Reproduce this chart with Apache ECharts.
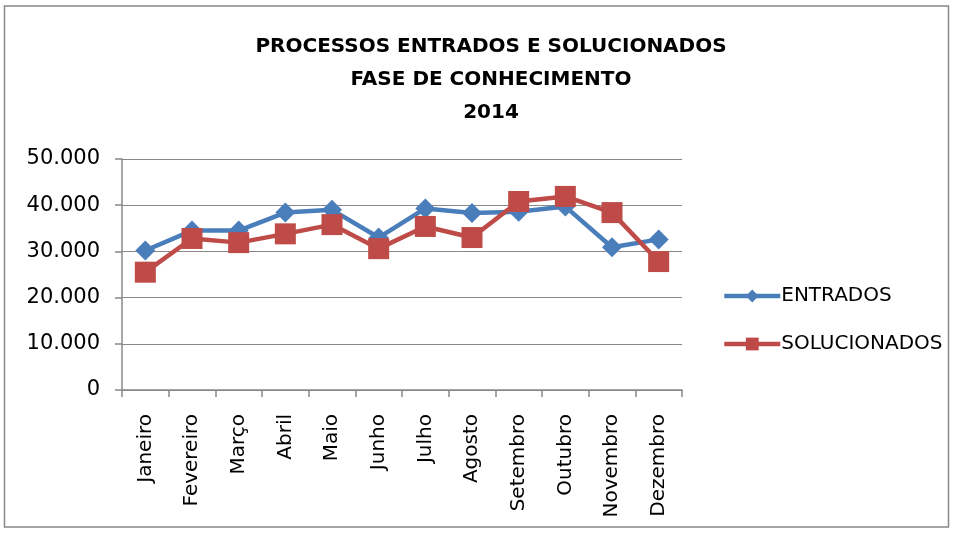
<!DOCTYPE html>
<html><head><meta charset="utf-8">
<script src="https://cdn.jsdelivr.net/npm/echarts@6/dist/echarts.min.js"></script>
<style>html,body{margin:0;padding:0;background:#fff}#c{width:954px;height:533px}</style>
</head><body><div id="c"></div>
<script>
var categories = ['Janeiro','Fevereiro','Março','Abril','Maio','Junho','Julho','Agosto','Setembro','Outubro','Novembro','Dezembro'];
var entrados = [30200, 34500, 34500, 38400, 39000, 33000, 39300, 38300, 38600, 39700, 30900, 32600];
var solucionados = [25500, 32800, 31900, 33800, 35800, 30600, 35400, 33000, 40800, 41900, 38400, 27800];
var yTicks = [0, 10000, 20000, 30000, 40000, 50000];

var chart = echarts.init(document.getElementById('c'));
function fmt(v){ return v === 0 ? '0' : String(v).replace(/(\d)(?=(\d{3})+$)/g, '$1.'); }
chart.setOption({
  animation: false,
  backgroundColor: '#fff',
  graphic: [{type:'rect', shape:{x:4.5, y:6, width:944, height:521}, style:{fill:'none', stroke:'#888', lineWidth:1.5}}],
  title: {
    text: 'PROCESSOS ENTRADOS E SOLUCIONADOS\nFASE DE CONHECIMENTO\n2014',
    left: 486, top: 25, textAlign: 'center',
    textStyle: {fontFamily:'DejaVu Sans', fontWeight:'bold', fontSize:20, lineHeight:33, color:'#000'}
  },
  legend: {
    orient: 'vertical', left: 717, top: 281, itemGap: 28, itemWidth: 56, itemHeight: 16,
    lineStyle: {width: 4.5},
    textStyle: {fontFamily:'DejaVu Sans', fontSize:20, color:'#000', padding:[0,0,0,-4]},
    data: ['ENTRADOS','SOLUCIONADOS']
  },
  grid: {left:122, right:272, top:159, bottom:143, containLabel:false},
  xAxis: {
    type:'category', data: categories, boundaryGap: true,
    axisLine:{lineStyle:{color:'#888', width:1.5}},
    axisTick:{show:true, length:7, lineStyle:{color:'#888', width:1.5}},
    axisLabel:{rotate:90, fontFamily:'DejaVu Sans', fontSize:20, color:'#000', margin:24, interval:0}
  },
  yAxis: {
    type:'value', min:0, max:50000, interval:10000,
    axisLine:{show:true, lineStyle:{color:'#888', width:1.5}},
    axisTick:{show:true, length:7, lineStyle:{color:'#888', width:1.5}},
    splitLine:{lineStyle:{color:'#888', width:1.2}},
    axisLabel:{fontFamily:'DejaVu Sans', fontSize:21, color:'#000', margin:22,
      formatter:function(v){ return fmt(v); }}
  },
  series: [
    {name:'ENTRADOS', type:'line', data: entrados, symbol:'diamond', symbolSize:20,
     lineStyle:{color:'#4a7ebb', width:4.5}, itemStyle:{color:'#4a7ebb'}},
    {name:'SOLUCIONADOS', type:'line', data: solucionados, symbol:'rect', symbolSize:21,
     lineStyle:{color:'#be4b48', width:4.5}, itemStyle:{color:'#be4b48'}}
  ]
});
</script></body></html>
